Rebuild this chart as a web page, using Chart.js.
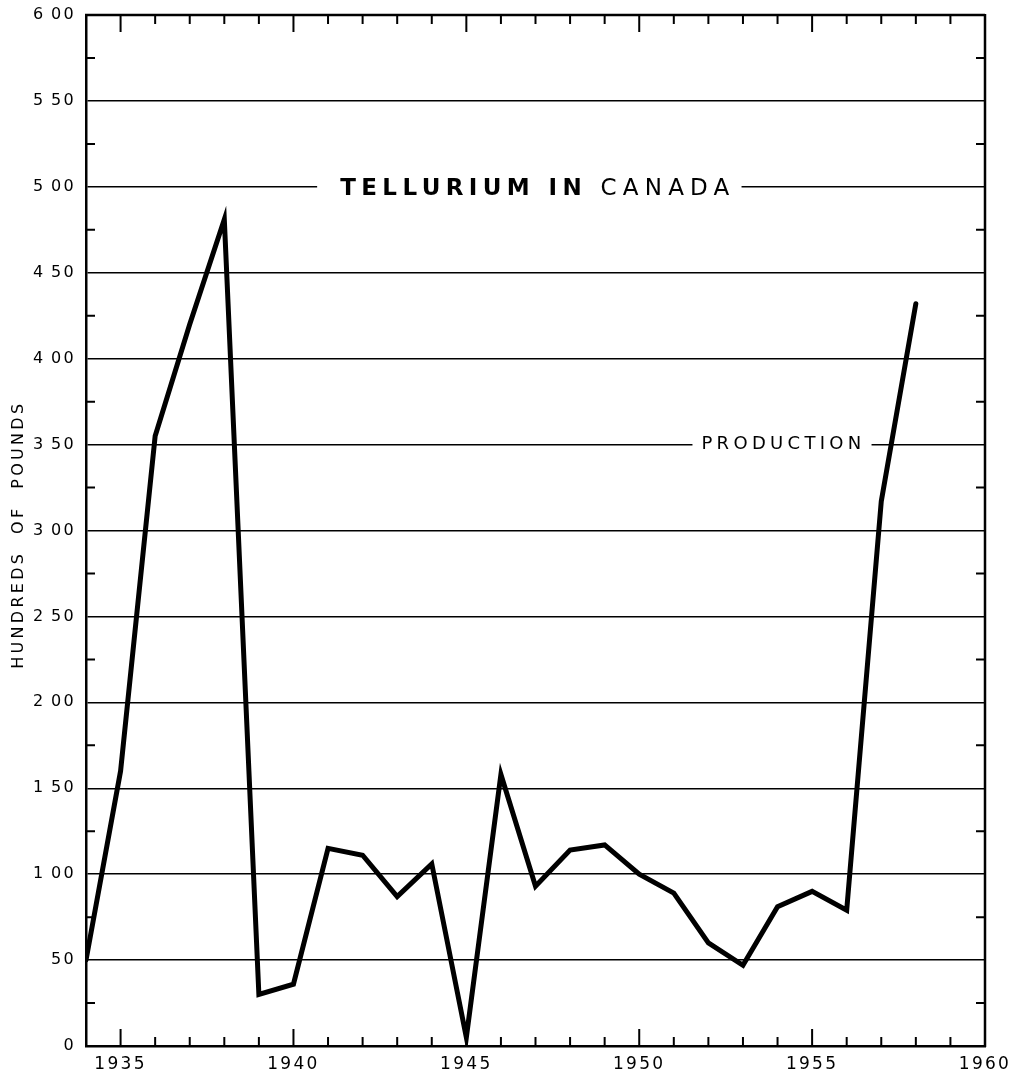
<!DOCTYPE html>
<html>
<head>
<meta charset="utf-8">
<script src="https://cdn.jsdelivr.net/npm/chart.js@4.4.1/dist/chart.umd.min.js"></script>
<style>
  html, body { margin: 0; padding: 0; background: #fff; }
  canvas { display: block; }
</style>
</head>
<body>
<canvas id="c" width="1016" height="1079"></canvas>
<script>
// ---- Data ----
const years = [1934, 1935, 1936, 1937, 1938, 1939, 1940, 1941, 1942, 1943, 1944, 1945, 1946,
               1947, 1948, 1949, 1950, 1951, 1952, 1953, 1954, 1955, 1956, 1957, 1958];
const production = [50, 160, 355, 420, 481, 30, 36, 115, 111, 87, 106, 5, 158,
                    93, 114, 117, 100, 89, 60, 47, 81, 90, 79, 317, 432];
const xTickValues = [1935, 1940, 1945, 1950, 1955, 1960];
const yTickValues = [0, 50, 100, 150, 200, 250, 300, 350, 400, 450, 500, 550, 600];
const chartTitleBold = 'TELLURIUM IN';
const chartTitleLight = 'CANADA';
const seriesLabel = 'PRODUCTION';
const yAxisTitle = 'HUNDREDS  OF  POUNDS ';

function fmtY(v) {
  if (v < 100) return String(v);
  return Math.floor(v / 100) + '\u2009' + String(v % 100).padStart(2, '0');
}

const TICK_SPACING = '2.3px';
const TITLE_SPACING = '3.3px';

// letter spacing for axis text (drafting-style lettering)
const spacingPlugin = {
  id: 'spacing',
  beforeDraw(chart) {
    chart.ctx.letterSpacing = TICK_SPACING;
    const ys = chart.scales.y;
    if (ys && !ys._wrappedTitle) {
      const orig = ys.drawTitle;
      ys.drawTitle = function () {
        const c = this.ctx;
        c.letterSpacing = TITLE_SPACING;
        orig.apply(this, arguments);
        c.letterSpacing = TICK_SPACING;
      };
      ys._wrappedTitle = true;
    }
  }
};

// labels sitting on grid lines (with a gap in the line)
const labelPlugin = {
  id: 'gridLabels',
  beforeDatasetsDraw(chart) {
    const { ctx, scales: { x, y } } = chart;
    ctx.save();
    ctx.fillStyle = '#000';
    ctx.textAlign = 'left';
    ctx.textBaseline = 'alphabetic';

    // Title on the 500 line
    let yp = y.getPixelForValue(500);
    let xl = x.getPixelForValue(1941.35);
    ctx.letterSpacing = '5.4px';
    ctx.font = 'bold 23px "DejaVu Sans"';
    const w1 = ctx.measureText(chartTitleBold + ' ').width;
    ctx.letterSpacing = '6.2px';
    ctx.font = '23px "DejaVu Sans"';
    const w2 = ctx.measureText(chartTitleLight).width;
    ctx.fillStyle = '#fff';
    ctx.fillRect(xl - 23, yp - 4, w1 + w2 + 23 + 6, 8);
    ctx.fillStyle = '#000';
    ctx.letterSpacing = '5.4px';
    ctx.font = 'bold 23px "DejaVu Sans"';
    ctx.fillText(chartTitleBold + ' ', xl, yp + 8.3);
    ctx.letterSpacing = '6.2px';
    ctx.font = '23px "DejaVu Sans"';
    ctx.fillText(chartTitleLight, xl + w1, yp + 8.3);

    // Series label on the 350 line
    yp = y.getPixelForValue(350);
    xl = x.getPixelForValue(1951.8);
    ctx.letterSpacing = '4.3px';
    ctx.font = '18px "DejaVu Sans"';
    const w3 = ctx.measureText(seriesLabel).width;
    ctx.fillStyle = '#fff';
    ctx.fillRect(xl - 9, yp - 4, w3 + 9 + 6, 8);
    ctx.fillStyle = '#000';
    ctx.fillText(seriesLabel, xl, yp + 4);
    ctx.restore();
  }
};

// frame and inward tick marks
const framePlugin = {
  id: 'frame',
  afterDatasetsDraw(chart) {
    const { ctx, chartArea: { left, right, top, bottom }, scales: { x, y } } = chart;
    ctx.save();
    ctx.strokeStyle = '#000';
    ctx.lineCap = 'butt';
    ctx.lineWidth = 2.5;
    ctx.beginPath();
    ctx.moveTo(left - 1, top); ctx.lineTo(right, top);
    ctx.moveTo(right, top - 1); ctx.lineTo(right, bottom + 1);
    ctx.stroke();
    ctx.lineWidth = 2;
    ctx.beginPath();
    for (let v = Math.ceil(x.min); v <= x.max; v++) {
      const px = x.getPixelForValue(v);
      const len = v % 5 === 0 ? 17 : 9;
      ctx.moveTo(px, bottom); ctx.lineTo(px, bottom - len);
      ctx.moveTo(px, top); ctx.lineTo(px, top + len);
    }
    for (let v = y.min + 25; v < y.max; v += 50) {
      const py = y.getPixelForValue(v);
      ctx.moveTo(left, py); ctx.lineTo(left + 9, py);
      ctx.moveTo(right, py); ctx.lineTo(right - 9, py);
    }
    ctx.stroke();
    ctx.restore();
  }
};

new Chart(document.getElementById('c').getContext('2d'), {
  type: 'line',
  data: {
    datasets: [{
      data: years.map((yr, i) => ({ x: yr, y: production[i] })),
      borderColor: '#000',
      borderWidth: 5,
      pointRadius: 0,
      tension: 0,
      fill: false,
      borderJoinStyle: 'miter',
      borderCapStyle: 'round'
    }]
  },
  options: {
    responsive: false,
    animation: false,
    devicePixelRatio: 1,
    layout: { padding: { left: 0, top: 15, right: 31, bottom: 0 } },
    plugins: { legend: { display: false }, tooltip: { enabled: false } },
    scales: {
      x: {
        type: 'linear',
        min: 1934,
        max: 1960,
        afterBuildTicks: s => { s.ticks = xTickValues.map(v => ({ value: v })); },
        afterFit: s => { s.height = 33; s.paddingLeft = 0; s.paddingRight = 0; },
        ticks: {
          autoSkip: false,
          maxRotation: 0,
          color: '#000',
          padding: 8,
          font: { family: '"DejaVu Sans"', size: 17 },
          callback: v => String(v)
        },
        grid: { display: false, drawTicks: false },
        border: { display: true, color: '#000', width: 2.5 }
      },
      y: {
        min: 0,
        max: 600,
        afterBuildTicks: s => { s.ticks = yTickValues.map(v => ({ value: v })); },
        afterFit: s => { s.width = 86; s.paddingTop = 0; s.paddingBottom = 0; },
        ticks: {
          color: '#000',
          padding: 10,
          font: { family: '"DejaVu Sans"', size: 16 },
          callback: v => fmtY(v)
        },
        grid: {
          drawTicks: false,
          lineWidth: 1.5,
          color: c => (c.tick && (c.tick.value === 0 || c.tick.value === 600)) ? 'rgba(0,0,0,0)' : '#000'
        },
        border: { display: true, color: '#000', width: 2.5 },
        title: {
          display: true,
          text: yAxisTitle,
          color: '#000',
          font: { family: '"DejaVu Sans"', size: 16 },
          padding: { top: 9, bottom: 0 }
        }
      }
    }
  },
  plugins: [spacingPlugin, labelPlugin, framePlugin]
});
</script>
</body>
</html>
